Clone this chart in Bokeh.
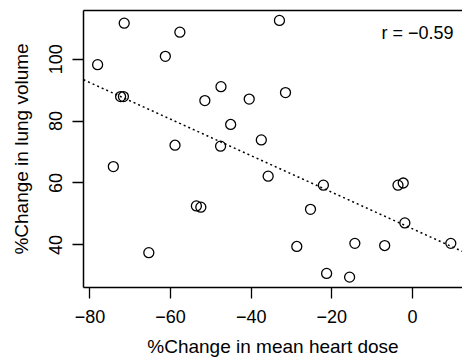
from bokeh.plotting import figure
from bokeh.models import (Range1d, FixedTicker, CustomJSTickFormatter, Label,
                          LinearAxis, ColumnDataSource)
from bokeh.embed import file_html
from bokeh.resources import INLINE

# ---- data ----
heart_dose = [-71.5, -57.7, -61.3, -78.1, -72.4, -71.7, -47.5, -51.5, -40.5, -45.1,
              -58.9, -47.6, -37.5, -33.0, -31.5, -74.2, -53.6, -52.5, -65.4, -35.8,
              -22.1, -3.6, -2.3, -25.3, -1.9, 9.5, -28.7, -14.3, -6.9, -21.3, -15.6]
lung_volume = [111.6, 108.7, 100.9, 98.2, 87.9, 87.9, 91.1, 86.6, 87.1, 78.9,
               72.2, 71.9, 73.9, 112.5, 89.2, 65.3, 52.6, 52.2, 37.5, 62.2,
               59.3, 59.3, 60.0, 51.5, 47.1, 40.5, 39.5, 40.5, 39.8, 30.8, 29.6]
# regression line
fit_intercept = 45.2
fit_slope = -0.59
x_ticks = [-80, -60, -40, -20, 0]
y_ticks = [40, 60, 80, 100]
r_label = "r = \u22120.59"
x_title = "%Change in mean heart dose"
y_title = "%Change in lung volume"

FONT = "Liberation Sans"

x0, x1 = -81.6, 12.4
y0, y1 = 26.25, 115.7

p = figure(width=462, height=359, output_backend="svg", toolbar_location=None,
           x_range=Range1d(x0, x1), y_range=Range1d(y0, y1),
           min_border_left=83, min_border_right=0, min_border_top=10,
           min_border_bottom=72, x_axis_location=None, y_axis_location=None)
p.grid.visible = False
p.outline_line_color = None
p.background_fill_color = "white"
p.border_fill_color = "white"

fmt = CustomJSTickFormatter(code="return tick.toString().replace('-', '\u2212');")

xa = LinearAxis(ticker=FixedTicker(ticks=x_ticks), formatter=fmt,
                axis_label=x_title)
ya = LinearAxis(ticker=FixedTicker(ticks=y_ticks), axis_label=y_title)
for ax in (xa, ya):
    ax.axis_line_color = "black"
    ax.axis_line_width = 1.5
    ax.major_tick_line_color = "black"
    ax.major_tick_line_width = 1.3
    ax.major_tick_in = 0
    ax.major_tick_out = 11
    ax.minor_tick_line_color = None
    ax.major_label_text_font = FONT
    ax.major_label_text_font_size = "18px"
    ax.major_label_text_color = "black"
    ax.axis_label_text_font = FONT
    ax.axis_label_text_font_size = "19px"
    ax.axis_label_text_font_style = "normal"
    ax.axis_label_text_color = "black"
ya.major_label_orientation = "vertical"
xa.major_label_standoff = 11
xa.axis_label_standoff = 10
ya.major_label_standoff = 10
ya.axis_label_standoff = 15
p.add_layout(xa, "below")
p.add_layout(ya, "left")

top = LinearAxis(ticker=FixedTicker(ticks=[]), major_label_text_font_size="0px",
                 major_tick_out=0, minor_tick_out=0)
top.axis_line_width = 1.5
top.axis_line_color = "black"
p.add_layout(top, "above")

# regression line across the full plot width
lx = [x0, x1]
ly = [fit_intercept + fit_slope * v for v in lx]
p.line(lx, ly, line_color="black", line_width=1.5, line_dash="2 3")

src = ColumnDataSource(dict(x=heart_dose, y=lung_volume))
p.scatter("x", "y", source=src, marker="circle", size=10, fill_color=None,
          line_color="black", line_width=1.3)

p.add_layout(Label(x=10.2, y=108.3, text=r_label, text_align="right",
                   text_baseline="middle", text_font=FONT,
                   text_font_size="18px", text_color="black"))

open("out.html", "w").write(file_html(p, INLINE))
